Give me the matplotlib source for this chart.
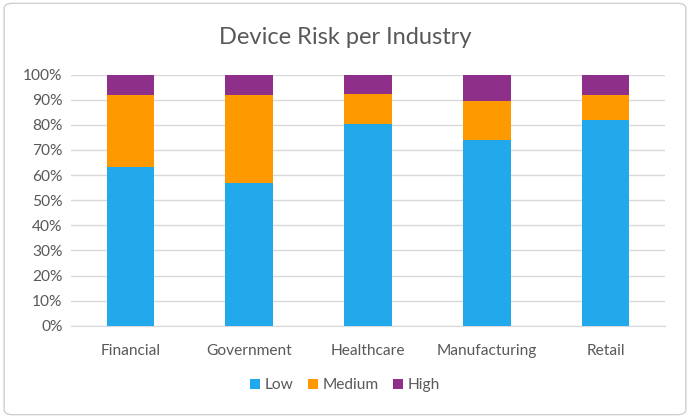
import matplotlib
matplotlib.use("Agg")
import matplotlib.pyplot as plt
from matplotlib.patches import FancyBboxPatch
import numpy as np

categories = ["Financial", "Government", "Healthcare", "Manufacturing", "Retail"]
low = [63.2, 56.9, 80.5, 73.9, 81.8]
medium = [28.7, 35.1, 11.9, 15.5, 10.2]
high = [8.1, 8.0, 7.6, 10.6, 8.0]
yticks = [0, 10, 20, 30, 40, 50, 60, 70, 80, 90, 100]

plt.rcParams['font.family'] = ['Lato', 'DejaVu Sans']
text_color = "#595959"

fig = plt.figure(figsize=(6.9, 4.18), dpi=100)
ax = fig.add_axes([0.1029, 0.2208, 0.861, 0.6005])

x = np.arange(len(categories))
w = 0.4
low_a = np.array(low)
med_a = np.array(medium)
high_a = np.array(high)
ax.bar(x, low_a, w, color="#22A9EB", label="Low", zorder=3)
ax.bar(x, med_a, w, bottom=low_a, color="#FF9900", label="Medium", zorder=3)
ax.bar(x, high_a, w, bottom=low_a + med_a, color="#8E3089", label="High", zorder=3)

ax.set_xlim(-0.5, len(categories) - 0.5)
ax.set_ylim(0, 100)
ax.set_yticks(yticks)
ax.set_yticklabels([f"{t}%" for t in yticks])
ax.set_xticks(x)
ax.set_xticklabels(categories)
ax.yaxis.grid(True, color="#D9D9D9", linewidth=1, zorder=0)
ax.set_axisbelow(True)
for s in ["top", "right", "left"]:
    ax.spines[s].set_visible(False)
ax.spines["bottom"].set_color("#D9D9D9")
ax.tick_params(axis="both", length=0, colors=text_color, labelsize=11.2)
ax.tick_params(axis="x", pad=13)
ax.tick_params(axis="y", pad=6)

fig.text(0.5, 0.91, "Device Risk per Industry", ha="center", va="center",
         fontsize=17, color=text_color)

leg = fig.legend(loc="center", bbox_to_anchor=(0.5, 0.078), ncol=3, frameon=False,
                 fontsize=11.2, handlelength=0.65, handleheight=0.65,
                 handletextpad=0.3, columnspacing=0.9)
for t in leg.get_texts():
    t.set_color(text_color)

border = FancyBboxPatch((0.006, 0.008), 0.988, 0.984, boxstyle="round,pad=0,rounding_size=0.012",
                        transform=fig.transFigure, fill=False, edgecolor="#D0D0D0", linewidth=1)
fig.patches.append(border)

fig.savefig("out.png", dpi=100)
